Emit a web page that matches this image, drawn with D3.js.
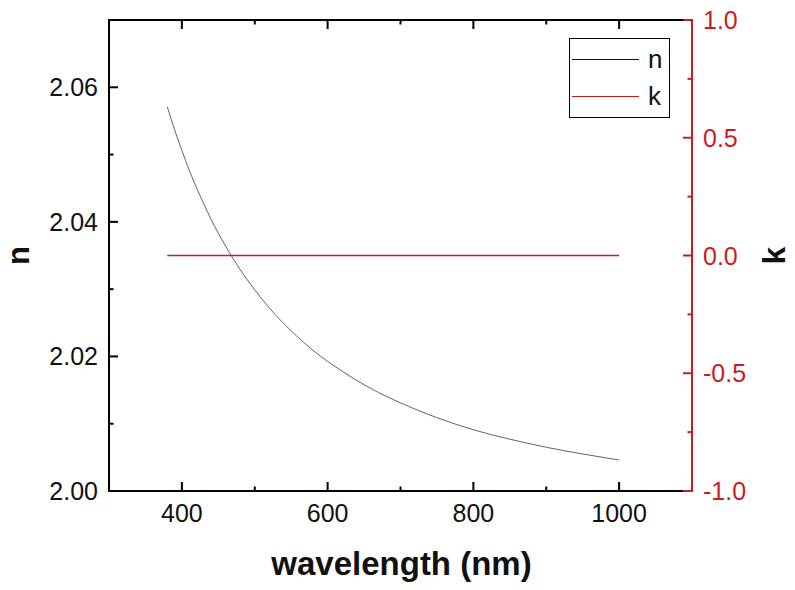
<!DOCTYPE html>
<html><head><meta charset="utf-8">
<script src="https://cdn.jsdelivr.net/npm/d3@7"></script>
<style>body{margin:0;background:#fff}svg{display:block}</style>
</head><body><svg id="c" width="795" height="590"></svg>
<script>
const wavelengths = [380,390,400,410,420,430,440,450,460,480,500,520,550,580,620,660,700,750,800,850,900,950,1000];
const nValues = [2.0571,2.0537,2.0506,2.0477,2.0451,2.0427,2.0404,2.0383,2.0364,2.0329,2.0299,2.0272,2.0238,2.0209,2.0178,2.0152,2.0131,2.0109,2.0091,2.0077,2.0065,2.0055,2.0046];
const kValues = [0,0,0,0,0,0,0,0,0,0,0,0,0,0,0,0,0,0,0,0,0,0,0];
const xMajor = [400,600,800,1000];
const xMinor = [500,700,900];
const nMajor = [2.00,2.02,2.04,2.06];
const nMinor = [2.01,2.03,2.05];
const kMajor = [-1.0,-0.5,0.0,0.5,1.0];
const kMinor = [-0.75,-0.25,0.25,0.75];
const legendItems = [{label:"n",color:"#111"},{label:"k",color:"#c41e1e"}];

const L=109,R=692,T=20,B=491;
const red="#cc1b1b";
const svg=d3.select("#c");
const x=d3.scaleLinear().domain([300,1100]).range([L,R]);
const yn=d3.scaleLinear().domain([2.00,2.07]).range([B,T]);
const yk=d3.scaleLinear().domain([-1,1]).range([B,T]);
const font="Liberation Sans, Arial, sans-serif";

// data lines
const lineN=d3.line().x((d,i)=>x(wavelengths[i])).y(d=>yn(d)).curve(d3.curveMonotoneX);
svg.append("path").attr("d",lineN(nValues)).attr("fill","none").attr("stroke","#3a3a3a").attr("stroke-width",0.8);
const lineK=d3.line().x((d,i)=>x(wavelengths[i])).y(d=>yk(d));
svg.append("path").attr("d",lineK(kValues)).attr("fill","none").attr("stroke","#c41e1e").attr("stroke-width",1.3);

// frame
svg.append("path").attr("d",`M${R},${T}H${L}V${B}H${R}`).attr("fill","none").attr("stroke","#000").attr("stroke-width",2);

// ticks (inward)
const tk=svg.append("g").attr("stroke","#000").attr("stroke-width",2);
xMajor.forEach(v=>{tk.append("line").attr("x1",x(v)).attr("x2",x(v)).attr("y1",B).attr("y2",B-9);
  tk.append("line").attr("x1",x(v)).attr("x2",x(v)).attr("y1",T).attr("y2",T+9);});
xMinor.forEach(v=>{tk.append("line").attr("x1",x(v)).attr("x2",x(v)).attr("y1",B).attr("y2",B-4.5);
  tk.append("line").attr("x1",x(v)).attr("x2",x(v)).attr("y1",T).attr("y2",T+4.5);});
nMajor.forEach(v=>tk.append("line").attr("x1",L).attr("x2",L+9).attr("y1",yn(v)).attr("y2",yn(v)));
nMinor.forEach(v=>tk.append("line").attr("x1",L).attr("x2",L+4.5).attr("y1",yn(v)).attr("y2",yn(v)));

// x labels
svg.append("g").selectAll("text").data(xMajor).join("text")
  .attr("x",d=>x(d)).attr("y",522).attr("text-anchor","middle")
  .attr("font-family",font).attr("font-size",25).attr("fill","#111").text(d=>d);
// n labels
svg.append("g").selectAll("text").data(nMajor).join("text")
  .attr("x",98).attr("y",d=>yn(d)+9).attr("text-anchor","end")
  .attr("font-family",font).attr("font-size",25).attr("fill","#111").text(d=>d.toFixed(2));

// right red axis
const rk=svg.append("g").attr("stroke",red).attr("stroke-width",2);
rk.append("line").attr("x1",R).attr("x2",R).attr("y1",T-1).attr("y2",B+1);
kMajor.forEach(v=>rk.append("line").attr("x1",R).attr("x2",R-9).attr("y1",yk(v)).attr("y2",yk(v)));
kMinor.forEach(v=>rk.append("line").attr("x1",R).attr("x2",R-4.5).attr("y1",yk(v)).attr("y2",yk(v)));
svg.append("g").selectAll("text").data(kMajor).join("text")
  .attr("x",703).attr("y",d=>yk(d)+9).attr("text-anchor","start")
  .attr("font-family",font).attr("font-size",25).attr("fill",red).text(d=>d.toFixed(1));

// axis titles
svg.append("text").attr("x",(L+R)/2+1).attr("y",575).attr("text-anchor","middle")
  .attr("font-family",font).attr("font-weight","bold").attr("font-size",33).attr("fill","#111").text("wavelength (nm)");
svg.append("text").attr("transform",`translate(28.5,${(T+B)/2}) rotate(-90)`).attr("text-anchor","middle")
  .attr("font-family",font).attr("font-weight","bold").attr("font-size",31).attr("fill","#111").text("n");
svg.append("text").attr("transform",`translate(785,${(T+B)/2}) rotate(-90)`).attr("text-anchor","middle")
  .attr("font-family",font).attr("font-weight","bold").attr("font-size",32).attr("fill","#111").text("k");

// legend
const lg=svg.append("g");
lg.append("rect").attr("x",569.5).attr("y",38.5).attr("width",100).attr("height",79)
  .attr("fill","#fff").attr("stroke","#000").attr("stroke-width",1);
legendItems.forEach((it,i)=>{
  const yy=59.5+i*37;
  lg.append("line").attr("x1",572).attr("x2",639).attr("y1",yy).attr("y2",yy).attr("stroke",it.color).attr("stroke-width",1);
  lg.append("text").attr("x",648).attr("y",yy+8).attr("font-family",font).attr("font-size",26).attr("fill","#111").text(it.label);
});
</script></body></html>
